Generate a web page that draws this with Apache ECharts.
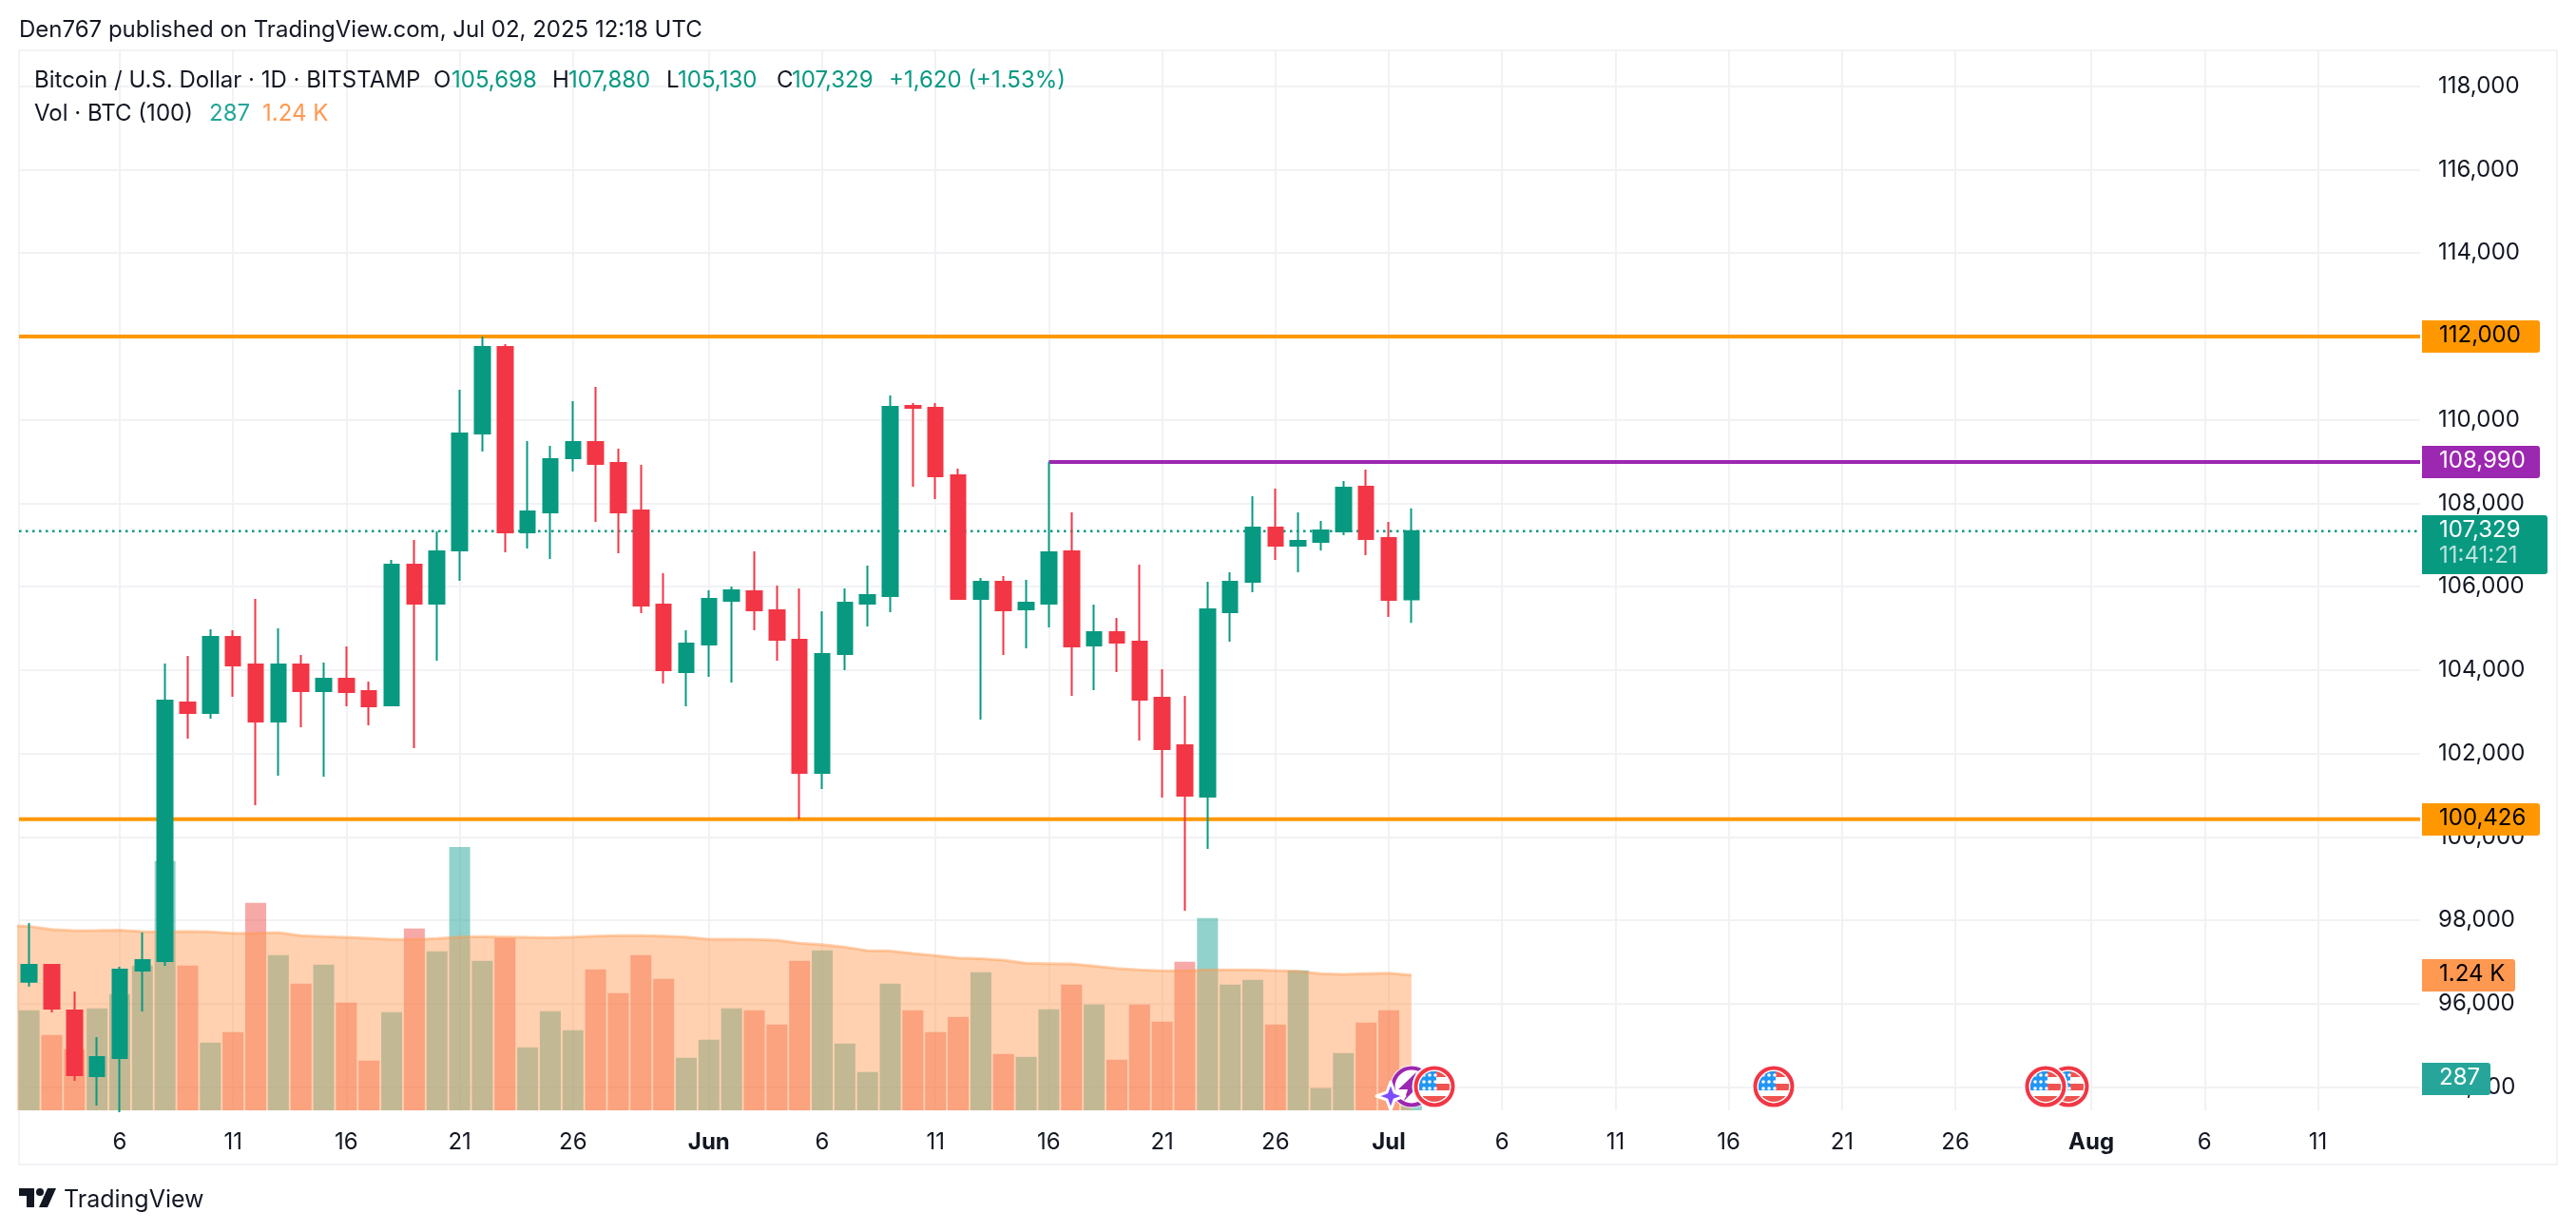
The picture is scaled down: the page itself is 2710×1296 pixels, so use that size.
<!DOCTYPE html>
<html>
<head>
<meta charset="utf-8">
<title>BTCUSD</title>
<script src="https://cdn.jsdelivr.net/npm/echarts@6/dist/echarts.min.js"></script>
<style>
html,body{margin:0;padding:0;background:#fff;}
#chart{width:2710px;height:1296px;}
</style>
</head>
<body>
<div id="chart"></div>
<script>
// daily candles, first one is May 2 2025, last one Jul 2 2025
var opens = [96530,96933,95839,94266,94700,96796,97024,103223,102972,104796,104135,102767,104135,103496,103793,103496,103155,106528,105593,106870,109672,111746,107303,107781,109080,109467,108966,107827,105570,103952,104613,105662,105889,105434,104727,101537,104385,105593,105775,110334,110288,108670,105707,106117,105456,105593,106847,104590,104909,104681,103337,102197,100967,105388,106117,107416,106983,107074,107325,108397,107166,105698];
var closes = [96933,95885,94289,94722,96819,97047,103269,102972,104796,104112,102767,104135,103496,103793,103474,103132,106528,105593,106847,109672,111746,107303,107804,109057,109467,108943,107781,105548,103998,104636,105707,105912,105434,104727,101537,104385,105616,105798,110311,110288,108647,105707,106117,105434,105616,106824,104567,104909,104659,103291,102106,100990,105456,106117,107416,106983,107097,107348,108374,107143,105684,107329];
var lows = [96416,95793,94153,93560,93400,95816,96910,102357,102836,103360,100761,101468,102630,101445,103132,102676,103132,102129,104226,106140,109239,106824,106915,106664,108761,107553,106801,105365,103679,103132,103838,103702,104955,104225,100428,101149,103998,105046,105388,108396,108100,105707,102813,104362,104522,105023,103382,103519,103952,102311,100944,98232,99713,104681,105866,106641,106345,106869,107234,106755,105274,105130];
var highs = [97936,96956,96295,95201,96887,97708,104157,104340,104978,104955,105707,105000,104362,104180,104568,103724,106642,107120,107325,110721,111997,111815,109490,109376,110447,110789,109307,108920,106323,104955,105912,106003,106847,106026,105958,105411,105958,106505,110584,110402,110402,108829,106208,106254,106163,108996,107781,105570,105251,106527,104020,103382,106117,106345,108168,108351,107781,107576,108533,108807,107553,107880];
var volumes = [920,693,562,937,1068,1330,2291,1330,623,719,1907,1426,1164,1339,990,457,902,1671,1461,2419,1374,1584,579,911,736,1295,1077,1426,1208,483,649,937,920,789,1374,1470,614,352,1164,920,719,859,1269,518,492,929,1156,972,466,972,815,1365,1767,1156,1199,789,1287,204,527,806,920,287];
var volumeMa = [1691,1662,1651,1653,1656,1642,1639,1645,1639,1627,1627,1633,1604,1595,1589,1581,1569,1569,1578,1592,1595,1592,1589,1586,1592,1601,1604,1604,1601,1592,1572,1572,1569,1563,1534,1522,1499,1467,1464,1441,1421,1400,1394,1380,1351,1348,1345,1325,1304,1290,1281,1281,1290,1290,1290,1284,1278,1255,1249,1255,1260,1243];
var volumeMaBefore = 1697;

var priceTicks = [94000,96000,98000,100000,102000,104000,106000,108000,110000,112000,114000,116000,118000];
// day number counted from May 2 -> text under the axis
var timeTickDays = [4,9,14,19,24,30,35,40,45,50,55,60,65,70,75,80,85,91,96,101];
var timeTickNames = ['6','11','16','21','26','Jun','6','11','16','21','26','Jul','6','11','16','21','26','Aug','6','11'];

var supportLevel = 100426;
var resistanceLevel = 112000;
var highLevel = 108990;
var highLevelDay = 45;
var lastPrice = 107329;
var flagDays = [62,77,90,89];
var sparkDay = 60;
var boltDay = 61;

var C_UP = '#089981', C_DOWN = '#F23645', C_TEXT = '#131722', C_GRID = '#f1f2f4';
var FONT = 'Inter, "Noto Sans", sans-serif';

var myChart = echarts.init(document.getElementById('chart'));

// grid sits at 20..2546 / 53..1168 on the page
var GRID_L = 20, GRID_R = 2546, GRID_T = 53, GRID_B = 1168;
var xMin = -0.445, xMax = 105.51;
var priceMin = 93447, priceMax = 118857;
var volMax = 9738;

function fmt(v){ return Number(v).toLocaleString('en-US'); }

var candleData = opens.map(function(o,i){ return [i,o,closes[i],lows[i],highs[i]]; });
var volumeData = volumes.map(function(v,i){
    return {value:[i,v], itemStyle:{color: closes[i]>=opens[i] ? 'rgba(38,166,154,0.5)' : 'rgba(239,83,80,0.5)'}};
});
var maData = [[-1,volumeMaBefore]].concat(volumeMa.map(function(v,i){ return [i,v]; }));

function levelLine(name,from,value,color,width,dash){
    return {
        name:name, type:'line', xAxisIndex:0, yAxisIndex:0, silent:true, symbol:'none', z:3, animation:false,
        data:[[from,value],[xMax,value]],
        lineStyle:{color:color,width:width,type:dash||'solid'}
    };
}

// tag in the price scale, y comes from the axis
function tagSeries(yIndex,value,text,bg,fg,right,second){
    return {
        type:'custom', xAxisIndex:0, yAxisIndex:yIndex, silent:true, z:8, animation:false, clip:false,
        data:[[0,value]],
        renderItem:function(params,api){
            var y = Math.round(api.coord([0,api.value(1)])[1]);
            var kids = [];
            var h = second ? 62 : 34;
            kids.push({type:'rect',shape:{x:2548,y:y-17,width:right-2548,height:h,r:[0,3,3,0]},style:{fill:bg}});
            kids.push({type:'text',style:{x:2566,y:y-1,text:text,fill:fg,font:'24px '+FONT,textVerticalAlign:'middle'}});
            if(second) kids.push({type:'text',style:{x:2566,y:y+26,text:second,fill:'rgba(255,255,255,0.72)',font:'24px '+FONT,textVerticalAlign:'middle'}});
            return {type:'group',children:kids};
        }
    };
}

function flagIcon(cx,cy){
    var rows = [-10,-3,4], cols = [-11,-5,1], stars = [];
    rows.forEach(function(ry){ cols.forEach(function(rx){
        stars.push({type:'circle',shape:{cx:cx+rx,cy:cy+ry-2,r:1.8},style:{fill:'#fff'}});
    });});
    return {type:'group',children:[
        {type:'circle',shape:{cx:cx,cy:cy,r:23.5},style:{fill:'#fff'}},
        {type:'circle',shape:{cx:cx,cy:cy,r:19.5},style:{fill:'#fff',stroke:'#F23645',lineWidth:4}},
        {type:'group',clipPath:{type:'circle',shape:{cx:cx,cy:cy,r:16}},children:[
            {type:'rect',shape:{x:cx-17,y:cy-17,width:34,height:7},style:{fill:'#EF5350'}},
            {type:'rect',shape:{x:cx-17,y:cy-3,width:34,height:7},style:{fill:'#EF5350'}},
            {type:'rect',shape:{x:cx-17,y:cy+10,width:34,height:7},style:{fill:'#EF5350'}},
            {type:'rect',shape:{x:cx-17,y:cy-17,width:19,height:21},style:{fill:'#2196F3'}}
        ].concat(stars)}
    ]};
}

function sparkIcon(cx,cy){
    return {type:'polygon',shape:{points:[[cx,cy-15],[cx+4,cy-4],[cx+15,cy],[cx+4,cy+4],[cx,cy+15],[cx-4,cy+4],[cx-15,cy],[cx-4,cy-4]]},
        style:{fill:'#7C4DFF',stroke:'#fff',lineWidth:3,lineJoin:'round'}};
}

function boltIcon(cx,cy){
    return {type:'group',children:[
        {type:'circle',shape:{cx:cx,cy:cy,r:22.5},style:{fill:'#fff'}},
        {type:'circle',shape:{cx:cx,cy:cy,r:19.5},style:{fill:'#fff',stroke:'#9C27B0',lineWidth:4}},
        {type:'polygon',shape:{points:[[cx+5,cy-15],[cx-14,cy+3],[cx-4,cy+3],[cx-8,cy+15],[cx+11,cy-4],[cx+1,cy-4]]},style:{fill:'#9C27B0'}}
    ]};
}

var eventSeries = {
    type:'custom', xAxisIndex:0, yAxisIndex:0, silent:true, z:9, animation:false, clip:false,
    data:[[boltDay,0,'bolt'],[sparkDay,0,'spark']].concat(flagDays.map(function(d){ return [d,0,'flag']; })),
    encode:{x:0,y:1},
    renderItem:function(params,api){
        var cx = Math.round(api.coord([api.value(0),priceMax])[0]);
        var kind = params.dataIndex==0 ? 'bolt' : (params.dataIndex==1 ? 'spark' : 'flag');
        if(kind=='bolt') return boltIcon(cx,1143);
        if(kind=='spark') return sparkIcon(cx+2,1153);
        return flagIcon(cx,1143);
    }
};

var legendLine1 = [
    {x:36,t:'Bitcoin / U.S. Dollar · 1D · BITSTAMP',c:C_TEXT},
    {x:456,t:'O',c:C_TEXT},{x:475,t:'105,698',c:C_UP},
    {x:581,t:'H',c:C_TEXT},{x:598,t:'107,880',c:C_UP},
    {x:701,t:'L',c:C_TEXT},{x:713,t:'105,130',c:C_UP},
    {x:817,t:'C',c:C_TEXT},{x:833,t:'107,329',c:C_UP},
    {x:935,t:'+1,620 (+1.53%)',c:C_UP}
];
var legendLine2 = [
    {x:36,t:'Vol · BTC (100)',c:C_TEXT},
    {x:220,t:'287',c:'#26A69A'},
    {x:276,t:'1.24 K',c:'#FF9850'}
];

function textEl(item,y,size,weight){
    return {type:'text',x:item.x,y:y,z:20,silent:true,style:{text:item.t,fill:item.c,font:(weight||'normal')+' '+size+'px '+FONT,textVerticalAlign:'middle'}};
}

var graphicEls = [
    {type:'rect',z:-1,silent:true,shape:{x:20,y:53,width:2670,height:1172},style:{fill:'none',stroke:'#f2f3f5',lineWidth:2}},
    textEl({x:20,t:'Den767 published on TradingView.com, Jul 02, 2025 12:18 UTC',c:C_TEXT},32,24),
    // logo
    {type:'polygon',silent:true,shape:{points:[[20,1250],[36,1250],[36,1270],[28,1270],[28,1258],[20,1258]]},style:{fill:'#131722'}},
    {type:'circle',silent:true,shape:{cx:42,cy:1254,r:4},style:{fill:'#131722'}},
    {type:'polygon',silent:true,shape:{points:[[50,1250],[59,1250],[50,1270],[41,1270]]},style:{fill:'#131722'}},
    textEl({x:67,t:'TradingView',c:C_TEXT},1262,25)
];
legendLine1.forEach(function(it){ graphicEls.push(textEl(it,85,24)); });
legendLine2.forEach(function(it){ graphicEls.push(textEl(it,120,24)); });

var option = {
    animation:false,
    backgroundColor:'#fff',
    textStyle:{fontFamily:FONT},
    graphic:{elements:graphicEls},
    grid:{left:GRID_L,top:GRID_T,width:GRID_R-GRID_L,height:GRID_B-GRID_T,containLabel:false},
    xAxis:{
        type:'value', min:xMin, max:xMax,
        axisLine:{show:false},
        axisTick:{show:false,customValues:timeTickDays},
        splitLine:{show:true,lineStyle:{color:C_GRID,width:2}},
        axisLabel:{
            customValues:timeTickDays, margin:22, color:C_TEXT, fontSize:24, fontFamily:FONT,
            formatter:function(v){
                var name = timeTickNames[timeTickDays.indexOf(Math.round(v))];
                return /[A-Z]/.test(name) ? '{m|'+name+'}' : name;
            },
            rich:{m:{fontWeight:'bold',fontSize:24,color:C_TEXT,fontFamily:FONT}}
        }
    },
    yAxis:[{
        type:'value', position:'right', min:priceMin, max:priceMax,
        axisLine:{show:false},
        axisTick:{show:false,customValues:priceTicks},
        splitLine:{show:true,lineStyle:{color:C_GRID,width:2}},
        axisLabel:{customValues:priceTicks,margin:19,color:C_TEXT,fontSize:24,fontFamily:FONT,padding:[0,0,5,0],formatter:fmt}
    },{
        type:'value', position:'right', min:0, max:volMax, show:false, splitLine:{show:false}
    }],
    series:[
        {name:'Vol',type:'bar',xAxisIndex:0,yAxisIndex:1,barWidth:22,z:1,silent:true,data:volumeData},
        {name:'Vol MA',type:'line',xAxisIndex:0,yAxisIndex:1,symbol:'none',z:2,silent:true,data:maData,
            lineStyle:{color:'rgba(255,152,80,0.45)',width:3},
            areaStyle:{color:'rgba(255,152,80,0.45)',opacity:1}},
        levelLine('112k',xMin,resistanceLevel,'#FF9800',4),
        levelLine('100k',xMin,supportLevel,'#FF9800',4),
        levelLine('high',highLevelDay,highLevel,'#9C27B0',4),
        levelLine('last',xMin,lastPrice,C_UP,2.5,[2.5,4.5]),
        {name:'BTCUSD',type:'candlestick',xAxisIndex:0,yAxisIndex:0,barWidth:16,z:4,silent:true,data:candleData,
            itemStyle:{color:C_UP,color0:C_DOWN,borderColor:C_UP,borderColor0:C_DOWN,borderWidth:2}},
        eventSeries,
        tagSeries(0,resistanceLevel,fmt(resistanceLevel),'#FF9800','#000',2672),
        tagSeries(0,highLevel,fmt(highLevel),'#9C27B0','#fff',2672),
        tagSeries(0,supportLevel,fmt(supportLevel),'#FF9800','#000',2672),
        tagSeries(0,lastPrice,fmt(lastPrice),C_UP,'#fff',2680,'11:41:21'),
        tagSeries(1,volumeMa[volumeMa.length-1],'1.24 K','#FF9850','#000',2646),
        tagSeries(1,volumes[volumes.length-1],'287','#26A69A','#fff',2620)
    ]
};
myChart.setOption(option);
</script>
</body>
</html>
